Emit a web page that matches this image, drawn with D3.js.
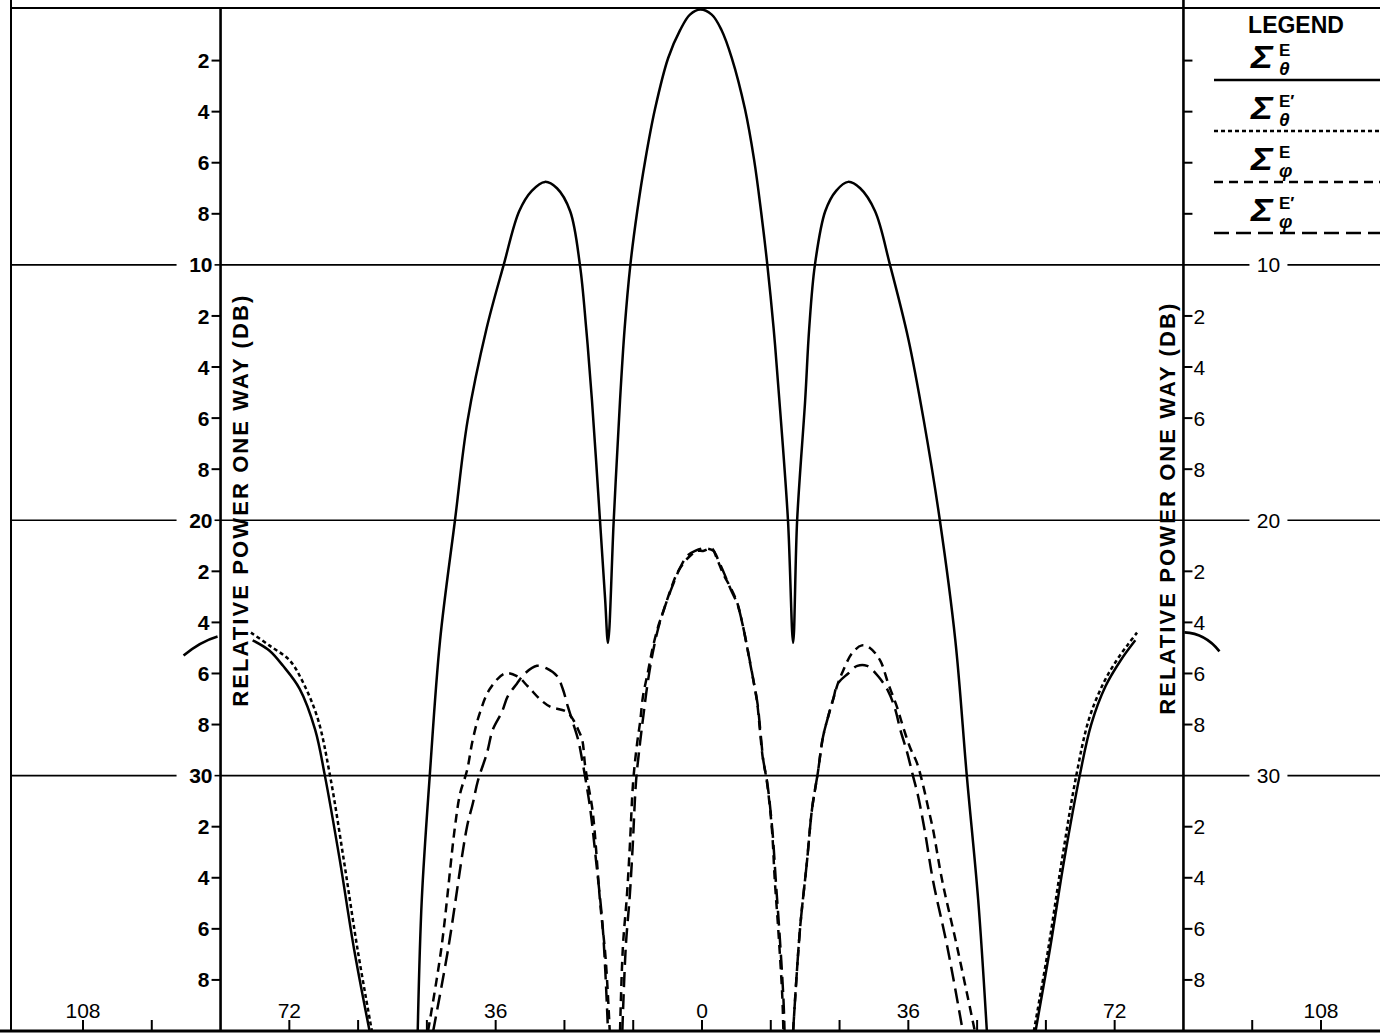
<!DOCTYPE html>
<html><head><meta charset="utf-8">
<script src="https://cdn.jsdelivr.net/npm/d3@7"></script>
<style>
body{margin:0;background:#fff}
svg{display:block}
text{font-family:"Liberation Sans",Arial,sans-serif;fill:#000}
</style>
</head><body>
<svg id="c" width="1380" height="1033"></svg>
<script>
// ---------------- DATA (angle in degrees, relative power in dB; null = break) ----------------
const angleTicks = [-108,-96,-72,-60,-48,-36,-24,-12,0,12,24,36,48,60,72,96,108];
const angleLabels = [-108,-72,-36,0,36,72,108];
const dbMajor = [10,20,30];
const dbMinor = [2,4,6,8,12,14,16,18,22,24,26,28,32,34,36,38];

// Sigma E theta (solid)
const sigmaETheta = [
  [-78.4,24.7],[-75.5,25.1],[-73.1,25.7],[-70.2,26.6],[-67.5,28.2],[-65.8,30.0],[-63.2,33.3],[-60.7,36.8],[-58.0,40.0],
  null,
  [-49.6,40.0],[-48.9,34.9],[-47.5,30.0],[-45.7,24.7],[-43.1,20.0],[-40.9,16.1],[-37.6,12.5],[-34.6,10.0],[-31.9,7.9],
  [-29.7,7.1],[-27.4,6.75],[-25.3,7.0],[-23.0,7.9],[-21.3,10.0],[-20.2,12.5],[-19.2,15.3],[-17.8,20.0],[-16.9,23.1],[-16.4,24.8],
  [-15.4,20.0],[-14.3,15.3],[-13.5,12.5],[-12.5,10.0],[-11.3,7.9],[-9.9,5.9],[-8.2,3.9],[-5.9,1.9],[-3.8,0.8],[-2.1,0.2],[-0.3,0.0],
  [1.7,0.2],[3.4,0.8],[5.2,1.9],[7.5,3.9],[9.1,5.9],[10.3,7.9],[11.4,10.0],[12.5,12.5],[13.5,15.3],[15.0,20.0],[15.9,24.8],
  [16.6,20.0],[18.0,15.3],[18.7,12.5],[19.7,10.0],[21.5,7.9],[23.4,7.1],[25.5,6.75],[27.6,7.0],[30.2,7.9],[32.8,10.0],[36.0,12.9],
  [38.7,16.1],[41.5,20.0],[44.2,24.7],[46.2,30.0],[48.2,34.9],[49.7,40.0],
  null,
  [58.2,40.0],[60.7,36.8],[63.2,33.3],[65.9,30.0],[67.9,28.0],[70.4,26.5],[73.0,25.5],[75.6,24.7]
];

// Sigma E' theta (fine dashes)
const sigmaEpTheta = [
  [-78.7,24.4],[-75.5,24.9],[-71.9,25.5],[-69.5,26.4],[-67.0,27.8],[-64.9,30.0],[-62.5,33.3],[-60.1,36.8],[-57.6,40.0],
  null,
  [57.9,40.0],[60.4,36.8],[62.8,33.3],[65.3,30.0],[67.5,27.8],[70.0,26.4],[72.3,25.5],[74.2,24.9],[75.9,24.4]
];

// Sigma E phi (medium dashes)
const sigmaEPhi = [
  [-47.8,40.0],[-45.5,36.8],[-43.1,32.0],[-42.2,30.7],[-41.0,29.8],[-40.0,28.6],[-38.7,27.5],[-37.0,26.6],[-34.4,26.0],
  [-32.3,26.1],[-30.4,26.5],[-28.3,27.0],[-26.5,27.3],[-23.6,27.5],[-22.5,27.8],[-21.6,28.2],[-20.9,28.6],[-20.4,29.6],
  [-19.9,30.3],[-19.2,31.2],[-18.8,32.0],[-17.8,34.9],[-16.8,37.2],[-16.1,40.0],
  null,
  [-14.3,40.0],[-13.8,36.7],[-13.1,34.7],[-12.6,32.8],[-12.0,30.2],[-11.3,28.7],[-10.8,27.9],[-10.3,26.9],[-9.4,25.9],
  [-8.6,25.0],[-7.7,24.2],[-6.8,23.6],[-5.6,22.8],[-4.4,22.1],[-3.3,21.7],[-2.1,21.4],[-0.9,21.2],[0.2,21.2],[1.7,21.1],
  [2.6,21.5],[3.7,22.1],[4.9,22.6],[6.1,23.2],[7.0,24.0],[7.9,25.0],[8.4,25.6],[8.9,26.2],[9.6,27.1],[10.1,28.2],
  [10.6,29.3],[11.3,30.2],[12.2,32.1],[12.7,34.1],[13.3,36.0],[14.0,38.6],[14.2,40.0],
  null,
  [15.9,40.0],[17.1,36.0],[18.3,33.4],[19.2,31.3],[20.2,29.9],[21.1,28.5],[22.0,27.7],[22.9,27.0],[23.7,26.4],[24.6,25.9],
  [26.2,25.2],[27.9,24.9],[29.3,25.0],[31.1,25.5],[32.5,26.4],[34.0,27.3],[35.1,28.1],[36.3,28.9],[37.5,29.5],[38.6,30.4],
  [39.4,31.2],[40.3,32.1],[41.9,34.1],[44.5,36.7],[47.6,40.0]
];

// Sigma E' phi (long dashes)
const sigmaEpPhi = [
  [-46.9,40.0],[-44.3,36.8],[-41.0,32.0],[-40.0,31.1],[-39.1,30.2],[-37.5,29.1],[-36.5,28.2],[-34.9,27.5],[-33.9,26.9],
  [-32.3,26.4],[-30.9,26.0],[-28.8,25.7],[-27.1,25.8],[-25.3,26.1],[-24.3,26.6],[-23.4,27.3],[-22.7,27.8],[-21.6,28.6],
  [-20.9,29.4],[-20.2,30.3],[-19.5,31.3],[-18.5,33.3],[-17.3,36.0],[-16.4,40.0],
  null,
  [-13.9,40.0],[-13.3,36.7],[-12.6,34.7],[-12.1,32.8],[-11.5,30.2],[-10.8,28.7],[-10.2,27.6],[-9.5,26.4],[-8.6,25.2],
  [-7.6,24.2],[-6.5,23.4],[-5.2,22.6],[-3.9,21.9],[-2.6,21.4],[-1.2,21.2],[0.5,21.1],[2.0,21.2],[2.9,21.6],[3.9,22.1],
  [5.0,22.7],[6.2,23.3],[7.1,24.1],[8.0,25.1],[8.5,25.7],[9.0,26.3],[9.7,27.2],[10.2,28.3],[10.7,29.4],[11.4,30.3],
  [12.3,32.2],[12.9,34.2],[13.5,36.1],[14.2,38.7],[14.4,40.0],
  null,
  [15.9,40.0],[17.1,36.0],[18.3,33.4],[19.2,31.3],[20.2,29.9],[21.1,28.5],[22.0,27.7],[22.9,27.0],[23.7,26.4],[25.5,26.0],
  [27.1,25.7],[28.8,25.7],[30.7,26.1],[32.5,26.7],[33.7,27.4],[34.6,28.2],[35.8,29.1],[36.8,30.0],[37.7,30.8],[38.9,32.2],
  [40.3,34.1],[42.8,36.7],[45.5,40.0]
];

const yTitle = "RELATIVE POWER ONE WAY (DB)";

// ---------------- DRAWING ----------------
(function(){
const W = 1380, H = 1033;
const svg = d3.select("#c");
const x = d3.scaleLinear().domain([-108,108]).range([83,1321]);
const y = d3.scaleLinear().domain([0,40]).range([9.5,1031]);
const axL = x(-84), axR = x(84);
const topY = y(0) - 1.5, botY = y(40);

// frame
svg.append("line").attr("x1",11).attr("x2",11).attr("y1",0).attr("y2",botY).attr("stroke","#000").attr("stroke-width",2);
svg.append("line").attr("x1",11).attr("x2",W).attr("y1",topY).attr("y2",topY).attr("stroke","#000").attr("stroke-width",2);
svg.append("line").attr("x1",0).attr("x2",W).attr("y1",botY).attr("y2",botY).attr("stroke","#000").attr("stroke-width",3);
svg.append("line").attr("x1",axL).attr("x2",axL).attr("y1",topY).attr("y2",botY).attr("stroke","#000").attr("stroke-width",2.6);
svg.append("line").attr("x1",axR).attr("x2",axR).attr("y1",0).attr("y2",botY).attr("stroke","#000").attr("stroke-width",2.6);

// major grid lines with label gaps
dbMajor.forEach(v => {
  const yy = y(v);
  [[11, axL-44],[axL, axR+66],[axR+104, W]].forEach(([a,b]) => {
    svg.append("line").attr("x1",a).attr("x2",b).attr("y1",yy).attr("y2",yy).attr("stroke","#000").attr("stroke-width",1.6);
  });
  svg.append("line").attr("x1",axL-6).attr("x2",axL).attr("y1",yy).attr("y2",yy).attr("stroke","#000").attr("stroke-width",1.6);
  svg.append("text").attr("x",axL-8).attr("y",yy).attr("dy","0.36em").attr("text-anchor","end")
    .attr("font-size",21).attr("font-weight","bold").text(v);
  svg.append("text").attr("x",axR+85).attr("y",yy).attr("dy","0.36em").attr("text-anchor","middle")
    .attr("font-size",21).text(v);
});

// minor ticks & labels
dbMinor.forEach(v => {
  const yy = y(v);
  const lab = v % 10;
  svg.append("line").attr("x1",axL-9).attr("x2",axL).attr("y1",yy).attr("y2",yy).attr("stroke","#000").attr("stroke-width",2);
  svg.append("text").attr("x",axL-11).attr("y",yy).attr("dy","0.36em").attr("text-anchor","end")
    .attr("font-size",21).attr("font-weight","bold").text(lab);
  svg.append("line").attr("x1",axR).attr("x2",axR+9).attr("y1",yy).attr("y2",yy).attr("stroke","#000").attr("stroke-width",2);
  if (v > 10) {
    svg.append("text").attr("x",axR+10).attr("y",yy).attr("dy","0.36em").attr("text-anchor","start")
      .attr("font-size",21).text(lab);
  }
});

// bottom angle ticks and labels
angleTicks.forEach(a => {
  svg.append("line").attr("x1",x(a)).attr("x2",x(a)).attr("y1",botY).attr("y2",botY-11).attr("stroke","#000").attr("stroke-width",2);
});
angleLabels.forEach(a => {
  svg.append("text").attr("x",x(a)).attr("y",botY-13).attr("text-anchor","middle").attr("font-size",21).text(Math.abs(a));
});

// axis titles
const midY = y(20);
svg.append("text").attr("transform",`translate(${axL+20},${midY-20}) rotate(-90)`)
  .attr("text-anchor","middle").attr("dominant-baseline","central")
  .attr("font-size",22).attr("font-weight","bold").attr("letter-spacing",2.1).text(yTitle);
svg.append("text").attr("transform",`translate(${axR-16},${midY-12}) rotate(-90)`)
  .attr("text-anchor","middle").attr("dominant-baseline","central")
  .attr("font-size",22).attr("font-weight","bold").attr("letter-spacing",2.1).text(yTitle);

// break marks on the axes
const bY = y(24.9);
svg.append("path").attr("d",`M${axL-37},${bY+10} Q${axL-20},${bY-4} ${axL-3},${bY-9}`)
  .attr("fill","none").attr("stroke","#000").attr("stroke-width",2.6);
svg.append("path").attr("d",`M${axR+1},${bY-13} Q${axR+22},${bY-12} ${axR+36},${bY+6}`)
  .attr("fill","none").attr("stroke","#000").attr("stroke-width",2.6);

// curves
const line = d3.line().defined(d => d !== null).x(d => x(d[0])).y(d => y(d[1])).curve(d3.curveCatmullRom.alpha(0.5));
const styles = [
  {data: sigmaETheta, dash: null},
  {data: sigmaEpTheta, dash: "4,3"},
  {data: sigmaEPhi, dash: "9,6"},
  {data: sigmaEpPhi, dash: "15,7"}
];
styles.forEach(s => {
  svg.append("path").attr("d", line(s.data)).attr("fill","none").attr("stroke","#000")
    .attr("stroke-width",2.5).attr("stroke-dasharray", s.dash).attr("stroke-linejoin","round");
});

// legend
const lg = svg.append("g");
lg.append("text").attr("x",1296).attr("y",33).attr("text-anchor","middle").attr("font-size",23)
  .attr("font-weight","bold").text("LEGEND");
const legendItems = [
  {sup:"E", sub:"\u03B8", dash:null},
  {sup:"E\u2032", sub:"\u03B8", dash:"4,3"},
  {sup:"E", sub:"\u03C6", dash:"9,6"},
  {sup:"E\u2032", sub:"\u03C6", dash:"15,7"}
];
legendItems.forEach((it,i) => {
  const by = 68 + i*51;
  lg.append("text").attr("transform",`translate(1251,${by}) scale(1.2,1)`).attr("font-size",31)
    .attr("font-weight","bold").attr("font-style","italic").text("\u03A3");
  lg.append("text").attr("x",1279).attr("y",by-12).attr("font-size",17).attr("font-weight","bold").text(it.sup);
  lg.append("text").attr("x",1279).attr("y",by+7).attr("font-size",19).attr("font-weight","bold")
    .attr("font-style","italic").text(it.sub);
  lg.append("line").attr("x1",1214).attr("x2",W).attr("y1",by+12).attr("y2",by+12)
    .attr("stroke","#000").attr("stroke-width",2.4).attr("stroke-dasharray",it.dash);
});
})();
</script>
</body></html>
